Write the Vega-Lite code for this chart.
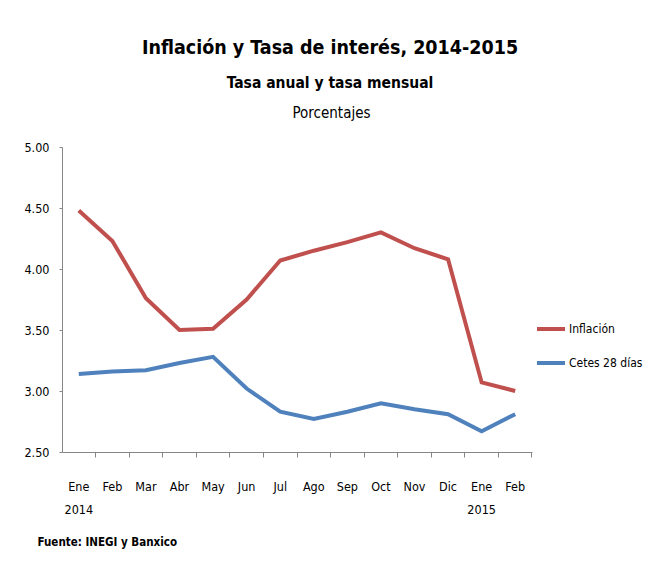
{
  "$schema": "https://vega.github.io/schema/vega-lite/v6.json",
  "width": 470,
  "height": 305,
  "autosize": {"type": "none"},
  "padding": {"left": 62, "top": 147, "right": 118, "bottom": 110},
  "background": "white",
  "config": {
    "font": "DejaVu Sans Condensed",
    "view": {"stroke": null}
  },
  "title": {
    "text": "Inflación y Tasa de interés, 2014-2015",
    "subtitle": "Tasa anual y tasa mensual",
    "anchor": "middle",
    "dx": 33,
    "fontSize": 19.5,
    "fontWeight": "bold",
    "color": "#000000",
    "subtitleFontSize": 15.5,
    "subtitleFontWeight": "bold",
    "subtitleColor": "#000000",
    "subtitlePadding": 17,
    "offset": 13
  },
  "data": {
    "values": [
      {"periodo": "Ene 2014", "serie": "Inflación", "valor": 4.48},
      {"periodo": "Feb 2014", "serie": "Inflación", "valor": 4.23},
      {"periodo": "Mar 2014", "serie": "Inflación", "valor": 3.76},
      {"periodo": "Abr 2014", "serie": "Inflación", "valor": 3.50},
      {"periodo": "May 2014", "serie": "Inflación", "valor": 3.51},
      {"periodo": "Jun 2014", "serie": "Inflación", "valor": 3.75},
      {"periodo": "Jul 2014", "serie": "Inflación", "valor": 4.07},
      {"periodo": "Ago 2014", "serie": "Inflación", "valor": 4.15},
      {"periodo": "Sep 2014", "serie": "Inflación", "valor": 4.22},
      {"periodo": "Oct 2014", "serie": "Inflación", "valor": 4.30},
      {"periodo": "Nov 2014", "serie": "Inflación", "valor": 4.17},
      {"periodo": "Dic 2014", "serie": "Inflación", "valor": 4.08},
      {"periodo": "Ene 2015", "serie": "Inflación", "valor": 3.07},
      {"periodo": "Feb 2015", "serie": "Inflación", "valor": 3.00},
      {"periodo": "Ene 2014", "serie": "Cetes 28 días", "valor": 3.14},
      {"periodo": "Feb 2014", "serie": "Cetes 28 días", "valor": 3.16},
      {"periodo": "Mar 2014", "serie": "Cetes 28 días", "valor": 3.17},
      {"periodo": "Abr 2014", "serie": "Cetes 28 días", "valor": 3.23},
      {"periodo": "May 2014", "serie": "Cetes 28 días", "valor": 3.28},
      {"periodo": "Jun 2014", "serie": "Cetes 28 días", "valor": 3.02},
      {"periodo": "Jul 2014", "serie": "Cetes 28 días", "valor": 2.83},
      {"periodo": "Ago 2014", "serie": "Cetes 28 días", "valor": 2.77},
      {"periodo": "Sep 2014", "serie": "Cetes 28 días", "valor": 2.83},
      {"periodo": "Oct 2014", "serie": "Cetes 28 días", "valor": 2.90},
      {"periodo": "Nov 2014", "serie": "Cetes 28 días", "valor": 2.85},
      {"periodo": "Dic 2014", "serie": "Cetes 28 días", "valor": 2.81},
      {"periodo": "Ene 2015", "serie": "Cetes 28 días", "valor": 2.67},
      {"periodo": "Feb 2015", "serie": "Cetes 28 días", "valor": 2.81}
    ]
  },
  "mark": {"type": "line", "strokeWidth": 4},
  "encoding": {
    "x": {
      "field": "periodo",
      "type": "ordinal",
      "sort": null,
      "scale": {"type": "band", "paddingInner": 0, "paddingOuter": 0},
      "axis": {
        "title": "Fuente: INEGI y Banxico",
        "titleAnchor": "start",
        "titleAlign": "left",
        "titleX": -25,
        "titleY": 93,
        "titleBaseline": "alphabetic",
        "titleFontSize": 11.5,
        "titleFontWeight": "bold",
        "titleColor": "#000000",
        "bandPosition": 1,
        "labelAngle": 0,
        "labelFontSize": 12.5,
        "labelColor": "#000000",
        "labelPadding": 23,
        "labelLineHeight": 23,
        "labelExpr": "indexof(datum.value, 'Ene') == 0 ? split(datum.value, ' ') : split(datum.value, ' ')[0]",
        "tickSize": 5,
        "tickColor": "#868686",
        "domainColor": "#868686",
        "grid": false
      }
    },
    "y": {
      "field": "valor",
      "type": "quantitative",
      "scale": {"domain": [2.5, 5], "zero": false, "nice": false},
      "axis": {
        "title": "Porcentajes",
        "titleAngle": 0,
        "titleAlign": "center",
        "titleBaseline": "alphabetic",
        "titleX": 269,
        "titleY": -30,
        "titleFontSize": 15,
        "titleFontWeight": "normal",
        "titleColor": "#000000",
        "values": [2.5, 3, 3.5, 4, 4.5, 5],
        "format": ".2f",
        "labelFontSize": 12.5,
        "labelColor": "#000000",
        "labelPadding": 10,
        "tickSize": 3,
        "tickColor": "#868686",
        "domainColor": "#868686",
        "grid": false
      }
    },
    "color": {
      "field": "serie",
      "type": "nominal",
      "scale": {"domain": ["Inflación", "Cetes 28 días"], "range": ["#C0504D", "#4F81BD"]},
      "legend": {
        "title": null,
        "orient": "none",
        "legendX": 473,
        "legendY": 166,
        "symbolType": "stroke",
        "symbolSize": 784,
        "symbolStrokeWidth": 4,
        "labelFontSize": 12,
        "labelColor": "#000000",
        "labelOffset": 2,
        "rowPadding": 10
      }
    }
  }
}
